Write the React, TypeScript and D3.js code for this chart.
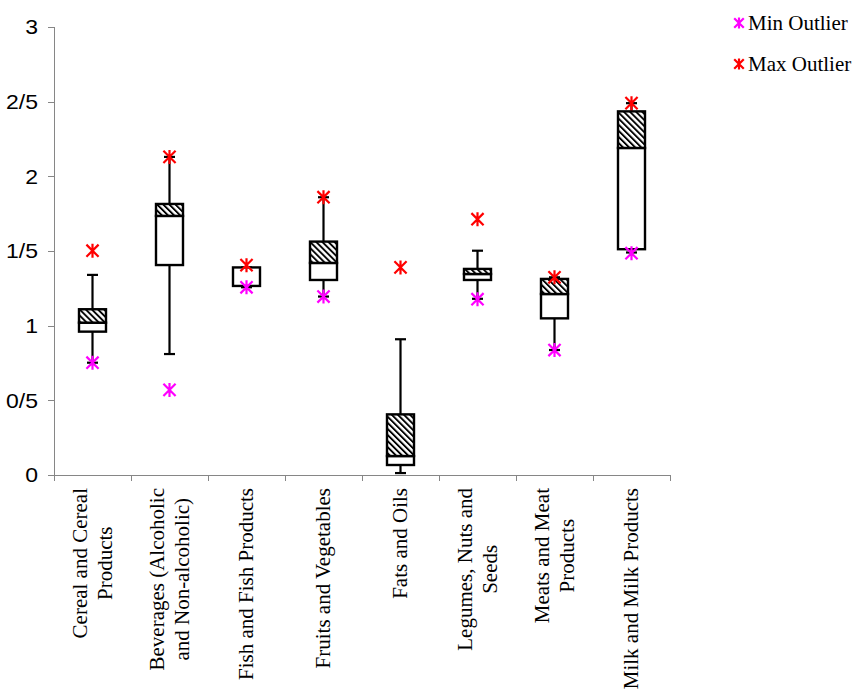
import * as d3 from 'd3';
import * as React from 'react';
import { useEffect, useRef } from 'react';

// categories, one entry per box (lines of the wrapped axis label)
const categories: string[][] = [
    ['Cereal and Cereal', 'Products'],
    ['Beverages (Alcoholic', 'and Non-alcoholic)'],
    ['Fish and Fish Products'],
    ['Fruits and Vegetables'],
    ['Fats and Oils'],
    ['Legumes, Nuts and', 'Seeds'],
    ['Meats and Meat', 'Products'],
    ['Milk and Milk Products'],
];

// box plot statistics
const whiskerLow = [0.752, 0.81, 1.257, 1.195, 0.013, 1.18, 0.837, 1.49];
const q1 = [0.96, 1.406, 1.266, 1.306, 0.067, 1.306, 1.049, 1.512];
const median = [1.02, 1.735, 1.39, 1.42, 0.127, 1.346, 1.212, 2.19];
const q3 = [1.11, 1.815, 1.39, 1.563, 0.406, 1.38, 1.313, 2.435];
const whiskerHigh = [1.34, 2.13, 1.39, 1.86, 0.909, 1.502, 1.324, 2.49];
const minOutlier: (number | null)[] = [0.752, 0.57, 1.257, 1.195, null, 1.177, 0.837, 1.485];
const maxOutlier: (number | null)[] = [1.502, 2.13, 1.405, 1.86, 1.39, 1.713, 1.324, 2.49];

// y tick labels as printed on the chart
const yTickValues = [0, 0.5, 1, 1.5, 2, 2.5, 3];
const yTickLabels = ['0', '0/5', '1', '1/5', '2', '2/5', '3'];

const legendLabels = ['Min Outlier', 'Max Outlier'];
const legendColors = ['#FF00FF', '#FF0000'];

const width = 857;
const height = 692;
const margin = { left: 54, right: 187, top: 27, bottom: 217 };

const serif = '"Liberation Serif", "Times New Roman", serif';
const sans = '"Liberation Sans", Arial, sans-serif';

function star(g: d3.Selection<SVGGElement, unknown, null, undefined>, x: number, y: number, color: string, r: number) {
    const d = r * 0.87;
    g.append('path')
        .attr('d', `M${x - d},${y - d}L${x + d},${y + d}M${x - d},${y + d}L${x + d},${y - d}M${x},${y - r}L${x},${y + r}`)
        .attr('stroke', color)
        .attr('stroke-width', 2.2)
        .attr('fill', 'none');
}

export default function App() {
    const svgRef = useRef<SVGSVGElement>(null);

    useEffect(() => {
        const svg = d3.select(svgRef.current);
        svg.selectAll('*').remove();

        const x = d3.scaleBand<number>()
            .domain(d3.range(categories.length))
            .range([margin.left, width - margin.right]);
        const y = d3.scaleLinear()
            .domain([0, 3])
            .range([height - margin.bottom, margin.top]);
        const y0 = y(0);

        const defs = svg.append('defs');
        const pat = defs.append('pattern')
            .attr('id', 'hatch')
            .attr('patternUnits', 'userSpaceOnUse')
            .attr('width', 4.3)
            .attr('height', 4.3)
            .attr('patternTransform', 'rotate(-45)');
        pat.append('rect').attr('width', 4.3).attr('height', 4.3).attr('fill', '#fff');
        pat.append('rect').attr('width', 1.9).attr('height', 4.3).attr('fill', '#000');

        // axes
        const axis = svg.append('g').attr('stroke', '#868686').attr('stroke-width', 1).attr('shape-rendering', 'crispEdges');
        axis.append('line').attr('x1', margin.left + 0.5).attr('x2', margin.left + 0.5).attr('y1', y(3)).attr('y2', y0);
        axis.append('line').attr('x1', margin.left).attr('x2', width - margin.right).attr('y1', y0 + 0.5).attr('y2', y0 + 0.5);
        yTickValues.forEach(v => {
            axis.append('line').attr('x1', margin.left - 6).attr('x2', margin.left).attr('y1', Math.round(y(v)) + 0.5).attr('y2', Math.round(y(v)) + 0.5);
        });
        d3.range(categories.length + 1).forEach(i => {
            const xx = margin.left + i * x.bandwidth();
            axis.append('line').attr('x1', Math.round(xx) + 0.5).attr('x2', Math.round(xx) + 0.5).attr('y1', y0).attr('y2', y0 + 6);
        });

        // y labels, a little wider than plain Arial in the original
        svg.append('g')
            .selectAll('text')
            .data(yTickValues)
            .join('text')
            .attr('transform', d => `translate(38,${y(d)}) scale(1.15,1)`)
            .attr('dy', '0.36em')
            .attr('text-anchor', 'end')
            .attr('font-family', sans)
            .attr('font-size', 20)
            .attr('fill', '#000')
            .text((d, i) => yTickLabels[i]);

        // category labels, rotated
        const labels = svg.append('g').attr('font-family', serif).attr('font-size', 21).attr('fill', '#000');
        categories.forEach((lines, i) => {
            const cx = x(i) + x.bandwidth() / 2;
            const grp = labels.append('g').attr('transform', `translate(${cx},${y0 + 13}) rotate(-90)`);
            const texts = lines.map((ln, j) => grp.append('text')
                .attr('y', (j - (lines.length - 1) / 2) * 25)
                .attr('dy', '0.33em')
                .text(ln));
            const widths = texts.map(t => (t.node() as SVGTextElement).getComputedTextLength());
            const block = d3.max(widths) || 0;
            texts.forEach(t => t.attr('x', -block / 2).attr('text-anchor', 'middle'));
        });

        // boxes
        const boxW = 27;
        const capW = 11;
        const boxes = svg.append('g');
        categories.forEach((_, i) => {
            const cx = x(i) + x.bandwidth() / 2;
            const g = boxes.append('g');
            g.append('line').attr('x1', cx).attr('x2', cx).attr('y1', y(q3[i])).attr('y2', y(whiskerHigh[i]))
                .attr('stroke', '#000').attr('stroke-width', 2.2);
            g.append('line').attr('x1', cx).attr('x2', cx).attr('y1', y(q1[i])).attr('y2', y(whiskerLow[i]))
                .attr('stroke', '#000').attr('stroke-width', 2.2);
            [whiskerHigh[i], whiskerLow[i]].forEach(v => {
                g.append('line').attr('x1', cx - capW / 2).attr('x2', cx + capW / 2).attr('y1', y(v)).attr('y2', y(v))
                    .attr('stroke', '#000').attr('stroke-width', 2.2);
            });
            g.append('rect').attr('x', cx - boxW / 2).attr('width', boxW)
                .attr('y', y(median[i])).attr('height', y(q1[i]) - y(median[i]))
                .attr('fill', '#fff').attr('stroke', '#000').attr('stroke-width', 2.4);
            g.append('rect').attr('x', cx - boxW / 2).attr('width', boxW)
                .attr('y', y(q3[i])).attr('height', y(median[i]) - y(q3[i]))
                .attr('fill', 'url(#hatch)').attr('stroke', '#000').attr('stroke-width', 2.4);
        });

        // outliers
        const marks = svg.append('g');
        categories.forEach((_, i) => {
            const cx = x(i) + x.bandwidth() / 2;
            const mn = minOutlier[i];
            const mx = maxOutlier[i];
            if (mn != null) star(marks as any, cx, y(mn), legendColors[0], 7);
            if (mx != null) star(marks as any, cx, y(mx), legendColors[1], 7);
        });

        // legend
        const legend = svg.append('g');
        legendLabels.forEach((lab, i) => {
            const ly = 23 + i * 41;
            star(legend as any, 739, ly, legendColors[i], 5.5);
            legend.append('text')
                .attr('x', 748)
                .attr('y', ly)
                .attr('dy', '0.33em')
                .attr('font-family', serif)
                .attr('font-size', 21)
                .attr('fill', '#000')
                .text(lab);
        });
    }, []);

    return (
        <svg
            ref={svgRef}
            width={width}
            height={height}
            style={{ position: 'absolute', left: 0, top: 0, background: '#fff' }}
        />
    );
}
